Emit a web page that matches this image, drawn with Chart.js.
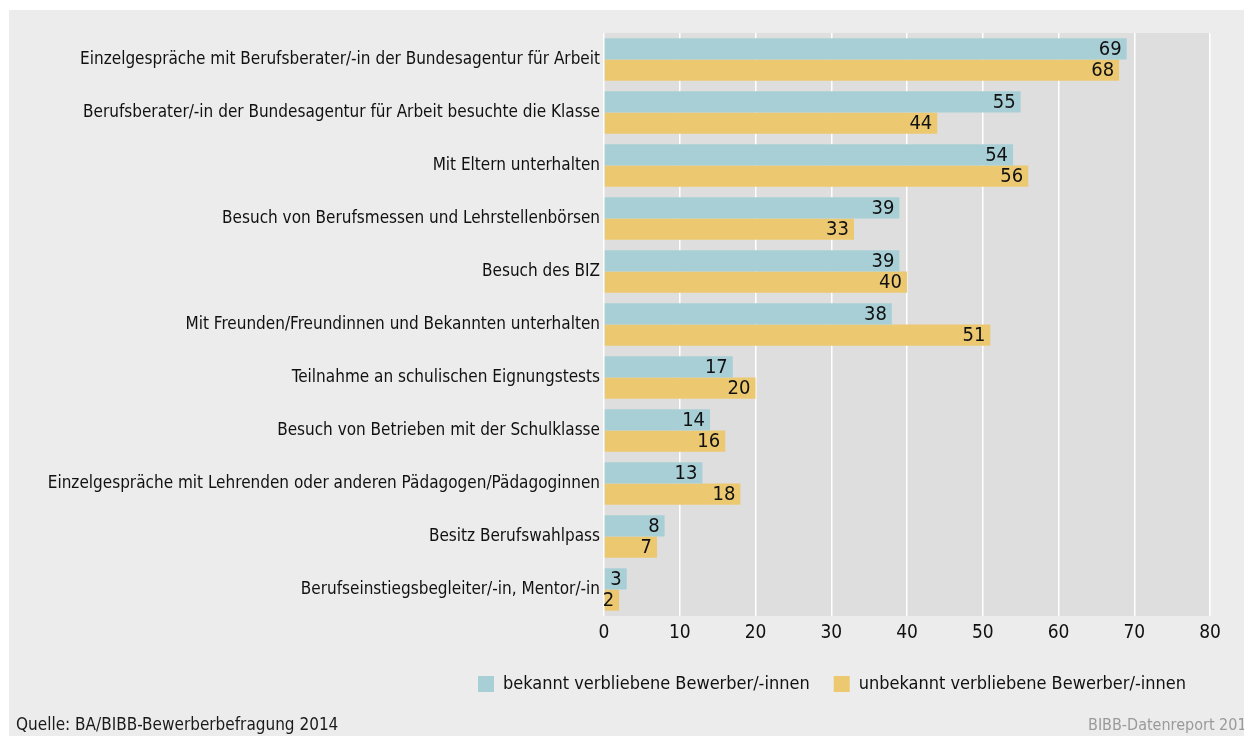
<!DOCTYPE html>
<html>
<head>
<meta charset="utf-8">
<script src="https://cdn.jsdelivr.net/npm/chart.js@4.4.1/dist/chart.umd.min.js"></script>
<style>
  html, body { margin: 0; padding: 0; background: #fff; }
  #wrap { position: absolute; left: 9px; top: 10px; width: 1235px; height: 726px; background: #ececec; overflow: hidden; }
  #chart { position: absolute; left: 0; top: 0; }
  .foot { position: absolute; font-family: "Liberation Sans Narrow", "DejaVu Sans Condensed", sans-serif; font-size: 17px; white-space: nowrap; }
</style>
</head>
<body>
<div id="wrap">
  <canvas id="chart" width="1235" height="726"></canvas>
  <div class="foot" style="left:7px; top:704px; color:#1a1a1a;">Quelle: BA/BIBB-Bewerberbefragung 2014</div>
  <div class="foot" style="left:1079px; top:705px; font-size:16px; color:#9a9a9a;">BIBB-Datenreport 2016</div>
</div>
<script>
const categories = [
  'Einzelgespräche mit Berufsberater/-in der Bundesagentur für Arbeit',
  'Berufsberater/-in der Bundesagentur für Arbeit besuchte die Klasse',
  'Mit Eltern unterhalten',
  'Besuch von Berufsmessen und Lehrstellenbörsen',
  'Besuch des BIZ',
  'Mit Freunden/Freundinnen und Bekannten unterhalten',
  'Teilnahme an schulischen Eignungstests',
  'Besuch von Betrieben mit der Schulklasse',
  'Einzelgespräche mit Lehrenden oder anderen Pädagogen/Pädagoginnen',
  'Besitz Berufswahlpass',
  'Berufseinstiegsbegleiter/-in, Mentor/-in'
];
const bekannt = [69, 55, 54, 39, 39, 38, 17, 14, 13, 8, 3];
const unbekannt = [68, 44, 56, 33, 40, 51, 20, 16, 18, 7, 2];
const xTicks = [0, 10, 20, 30, 40, 50, 60, 70, 80];

const FONT = '"Liberation Sans Narrow", "DejaVu Sans Condensed", sans-serif';

// grey plot background
const plotBg = {
  id: 'plotBg',
  beforeDraw(chart) {
    const { ctx, chartArea: a } = chart;
    ctx.save();
    ctx.fillStyle = '#dedede';
    ctx.fillRect(a.left, a.top, a.right - a.left, a.bottom - a.top);
    ctx.restore();
  }
};

// values at the inner end of each bar
const barValues = {
  id: 'barValues',
  afterDatasetsDraw(chart) {
    const ctx = chart.ctx;
    ctx.save();
    ctx.font = '20px ' + FONT;
    ctx.fillStyle = '#111';
    ctx.textAlign = 'right';
    ctx.textBaseline = 'middle';
    chart.data.datasets.forEach((ds, i) => {
      chart.getDatasetMeta(i).data.forEach((bar, j) => {
        ctx.fillText(ds.data[j], bar.x - 5, bar.y + 1);
      });
    });
    ctx.restore();
  }
};

new Chart(document.getElementById('chart'), {
  type: 'bar',
  data: {
    labels: categories,
    datasets: [
      { label: 'bekannt verbliebene Bewerber/-innen', data: bekannt, backgroundColor: '#a8cfd6' },
      { label: 'unbekannt verbliebene Bewerber/-innen', data: unbekannt, backgroundColor: '#ecc870' }
    ]
  },
  options: {
    indexAxis: 'y',
    responsive: false,
    animation: false,
    datasets: { bar: { categoryPercentage: 0.8, barPercentage: 1.0 } },
    layout: { padding: { top: 23, right: 34, bottom: 33, left: 0 } },
    scales: {
      x: {
        min: 0, max: 80,
        afterBuildTicks: s => { s.ticks = xTicks.map(v => ({ value: v })); },
        afterFit: s => { s.height = 35; },
        grid: { color: '#ffffff', lineWidth: 1.5, drawTicks: false },
        border: { display: false },
        ticks: { color: '#111', padding: 6, font: { family: FONT, size: 19 } }
      },
      y: {
        afterFit: s => { s.width = 595; },
        grid: { display: false, drawTicks: false },
        border: { display: false },
        ticks: { color: '#111', padding: 4, autoSkip: false, font: { family: FONT, size: 17 } }
      }
    },
    plugins: {
      legend: {
        position: 'bottom',
        align: 'end',
        labels: { boxWidth: 16, boxHeight: 16, padding: 24, color: '#111', font: { family: FONT, size: 18 } }
      },
      tooltip: { enabled: false }
    }
  },
  plugins: [plotBg, barValues]
});
</script>
</body>
</html>
